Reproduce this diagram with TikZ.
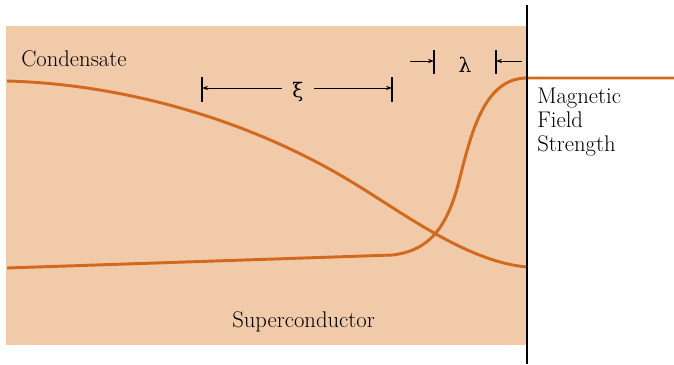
\documentclass[tikz,border=0pt]{standalone}
\usepackage{fontspec}
\usepackage{tikz}
\usetikzlibrary{arrows.meta,positioning,calc}
\usepackage{xcolor}
\newfontfamily\greekfont{DejaVu Serif}
\definecolor{scpeach}{HTML}{F0CAA9}
\definecolor{scorange}{HTML}{D2691C}

\begin{document}
\begin{tikzpicture}[x=0.75pt, y=-0.75pt, font=\fontsize{17}{18}\selectfont, >={Stealth[length=4.5pt,width=3.2pt]}]
  \useasboundingbox (0,0) rectangle (674,364);
  \fill[scpeach] (6,26) rectangle (527,345);
  % order parameter and field profile
  \draw[scorange,line width=2.2pt] (7,81) .. controls (120,84) and (250,118) .. (360,187)
    .. controls (410,218) and (470,262) .. (527,267);
  \draw[scorange,line width=2.2pt] (7,268) -- (393,255) .. controls (422,251) and (444,237) .. (458,185)
    .. controls (470,139) and (482,78) .. (527,78) -- (674,78);
  \draw[line width=1.3pt] (527,5) -- (527,364);
  \node[anchor=base west,inner sep=0] (cond) at (21,66) {Condensate};
  \node[anchor=base west,inner sep=0] (sc) at (232,327) {Superconductor};
  \node[anchor=north west,inner sep=0,align=left] (field) at (537,88) {Magnetic\\Field\\Strength};
  % coherence length
  \coordinate (xiL) at (202,88);
  \coordinate (xiR) at (392,88);
  \node[inner sep=0,font=\fontsize{15}{18}\greekfont] (xi) at (298,92) {ξ};
  \draw[line width=0.8pt] ($(xiL)+(0,-11)$) -- ($(xiL)+(0,14)$);
  \draw[line width=0.8pt] ($(xiR)+(0,-11)$) -- ($(xiR)+(0,14)$);
  \draw[->,line width=0.7pt] ($(xi.west |- xiL)+(-10,0)$) -- (xiL);
  \draw[->,line width=0.7pt] ($(xi.east |- xiR)+(10,0)$) -- (xiR);
  % penetration depth
  \coordinate (laL) at (434,61);
  \coordinate (laR) at (496,61);
  \node[inner sep=0,font=\fontsize{15}{18}\greekfont] (la) at (465,65) {λ};
  \draw[line width=0.8pt] ($(laL)+(0,-11)$) -- ($(laL)+(0,13)$);
  \draw[line width=0.8pt] ($(laR)+(0,-11)$) -- ($(laR)+(0,13)$);
  \draw[->,line width=0.7pt] ($(laL)+(-24,0)$) -- (laL);
  \draw[->,line width=0.7pt] ($(laR)+(26,0)$) -- (laR);
\end{tikzpicture}
\end{document}
